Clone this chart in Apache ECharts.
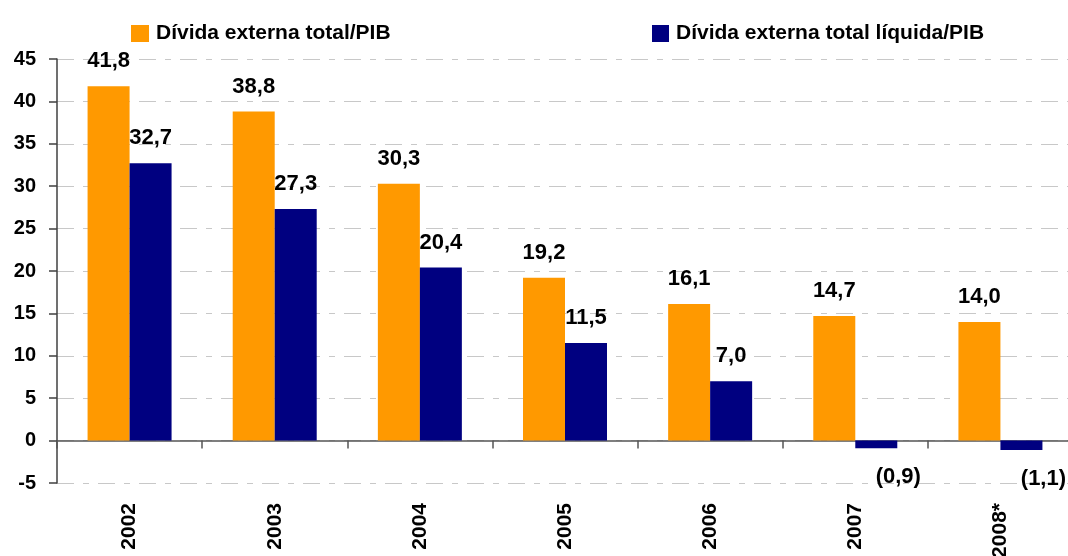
<!DOCTYPE html>
<html>
<head>
<meta charset="utf-8">
<script src="https://cdn.jsdelivr.net/npm/echarts@6/dist/echarts.min.js"></script>
<style>
html,body{margin:0;padding:0;background:#fff;}
#chart{width:1068px;height:556px;}
</style>
</head>
<body>
<div id="chart"></div>
<script>
const categories = ['2002', '2003', '2004', '2005', '2006', '2007', '2008*'];
const totalDebt = [41.8, 38.8, 30.3, 19.2, 16.1, 14.7, 14.0];
const netDebt = [32.7, 27.3, 20.4, 11.5, 7.0, -0.9, -1.1];
const seriesNames = ['Dívida externa total/PIB', 'Dívida externa total líquida/PIB'];
const yTicks = { min: -5, max: 45, interval: 5 };

const fmt = v => {
  const s = Math.abs(v).toFixed(1).replace('.', ',');
  return v < 0 ? '(' + s + ')' : s;
};

const FONT = 'Liberation Sans, Arial, sans-serif';

const labelStyle = {
  show: true,
  position: 'top',
  distance: 14,
  fontFamily: FONT,
  fontWeight: 'bold',
  fontSize: 22,
  color: '#000',
  formatter: p => fmt(p.value)
};

const netData = netDebt.map(v => v < 0 ? {
  value: v,
  label: { position: 'bottom', distance: 18, offset: [22, 0] }
} : v);

const chart = echarts.init(document.getElementById('chart'), null, { renderer: 'canvas' });
chart.setOption({
  animation: false,
  backgroundColor: '#fff',
  legend: [
    {
      data: [{ name: seriesNames[0], icon: 'rect' }], left: 126, top: 18, itemWidth: 18, itemHeight: 17, itemGap: 0,
      textStyle: { fontFamily: FONT, fontWeight: 'bold', fontSize: 21, color: '#000', padding: [0, 0, 0, 2] }
    },
    {
      data: [{ name: seriesNames[1], icon: 'rect' }], left: 647, top: 18, itemWidth: 17, itemHeight: 17, itemGap: 0,
      textStyle: { fontFamily: FONT, fontWeight: 'bold', fontSize: 21, color: '#000', padding: [0, 0, 0, 2] }
    }
  ],
  grid: { left: 57, right: -5, top: 59, bottom: 73, containLabel: false, outerBoundsMode: 'none' },
  xAxis: [
    {
      type: 'category', data: categories, position: 'bottom',
      axisLine: { onZero: true, lineStyle: { color: '#555', width: 1.5 } },
      axisTick: { show: true, length: 8, lineStyle: { color: '#555', width: 1.5 } },
      axisLabel: { show: false }, splitLine: { show: false }
    },
    {
      type: 'category', data: categories, position: 'bottom',
      axisLine: { show: false, onZero: false }, axisTick: { show: false },
      axisLabel: {
        show: true, rotate: 90, margin: 20, color: '#000',
        fontFamily: FONT, fontWeight: 'bold', fontSize: 21
      },
      splitLine: { show: false }
    }
  ],
  yAxis: {
    type: 'value', min: yTicks.min, max: yTicks.max, interval: yTicks.interval,
    axisLine: { show: true, lineStyle: { color: '#404040', width: 1.5 } },
    axisTick: { show: true, length: 8, lineStyle: { color: '#404040', width: 1.5 } },
    axisLabel: { margin: 21, color: '#000', fontFamily: FONT, fontWeight: 'bold', fontSize: 20 },
    splitLine: { show: true, lineStyle: { color: '#c8c8c8', width: 1, type: [17, 9, 6, 9] } }
  },
  series: [
    {
      name: seriesNames[0], type: 'bar', xAxisIndex: 0, data: totalDebt,
      barWidth: 42, barGap: '0%', itemStyle: { color: '#FF9900' }, label: labelStyle
    },
    {
      name: seriesNames[1], type: 'bar', xAxisIndex: 0, data: netData,
      barWidth: 42, barGap: '0%', itemStyle: { color: '#000080' }, label: labelStyle
    }
  ]
});
</script>
</body>
</html>
